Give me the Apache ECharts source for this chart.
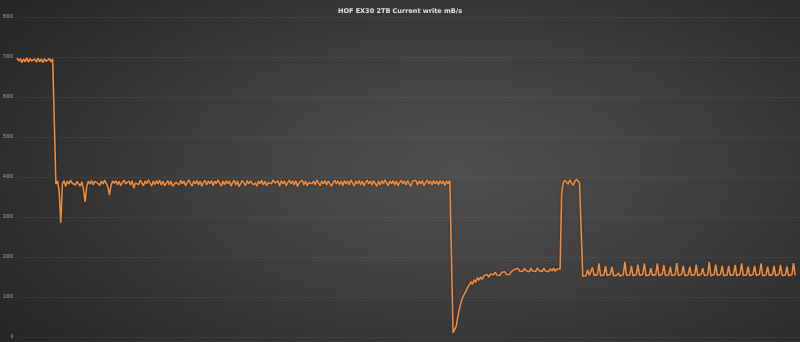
<!DOCTYPE html>
<html><head><meta charset="utf-8">
<script src="https://cdn.jsdelivr.net/npm/echarts@6/dist/echarts.min.js"></script>
<style>
html,body{margin:0;padding:0;}
#c{width:800px;height:342px;background:radial-gradient(ellipse 70% 80% at 57% 50%, #4e4e4e 0%, #434343 35%, #333333 70%, #262626 100%);}
</style></head><body>
<div id="c"></div>
<script>
var titleText = "HOF EX30 2TB Current write mB/s";
var yTicks = [0,1000,2000,3000,4000,5000,6000,7000,8000];
var segStart = [6980,6900,6960,6860,6950,6880,6980,6870,6960,6900,6850,6950,6870,6970,6880,6950,6860,6960,6890,6870,6960,6880,6950,6920];
var segDrop = [3820,3900,3650,2850,3820,3910,3760,3900,3820,3920,3850,3900,3800,3890,3840,3770,3880,3700,3380,3760,3900,3820,3910,3800,3890,3930,3840,3780,3900,3820,3920,3840,3760,3550,3790,3900];
var segPlateau = [
3840,3910,3800,3890,3780,3860,3920,3830,3780,3900,
3800,3910,3720,3850,3900,3810,3920,3850,3780,3900,
3830,3930,3850,3770,3900,3810,3910,3830,3920,3800,
3900,3780,3840,3910,3800,3900,3770,3750,3870,3910,
3800,3920,3830,3900,3780,3860,3930,3840,3770,3900,
3830,3910,3800,3900,3770,3860,3920,3800,3900,3830,
3910,3780,3900,3830,3930,3850,3770,3900,3810,3910,
3830,3900,3770,3860,3920,3800,3900,3760,3840,3910,
3860,3780,3910,3830,3900,3930,3800,3860,3770,3900,
3830,3920,3800,3900,3780,3860,3910,3830,3930,3850,
3800,3900,3770,3910,3830,3900,3780,3860,3920,3830,
3900,3800,3910,3760,3860,3830,3920,3800,3900,3780,
3860,3910,3830,3900,3800,3930,3850,3780,3900,3830,
3910,3800,3900,3830,3770,3860,3920,3830,3900,3800,
3900,3780,3910,3830,3900,3800,3930,3850,3770,3900,
3830,3910,3800,3900,3780,3860,3920,3830,3900,3800,
3910,3830,3770,3900,3800,3910,3830,3930,3850,3780,
3900,3830,3910,3800,3900,3780,3860,3920,3830,3900,
3800,3910,3830,3770,3900,3850,3920,3800,3900,3830,
3910,3780,3860,3920,3830,3900,3800,3910,3830,3900,
3800,3910,3830,3900,3780,3900,3830,3910,3860];
var segRecovery = [100,70,280,520,720,880,1000,1080,1150,1240,1300,1380,1320,1430,1370,1480,1420,1500,1440,1530,1480,1560,1500,1570,1600,1560,1620,1550,1600,1540,1620,1570,1630,1560,1610,1570,1640,1600,1690,1640,1720,1650,1700,1640,1720,1660,1710,1630,1720,1650,1700,1640,1730,1660,1700,1640,1720,1650,1690,1630,1710,1650,1720,1640,1700,1660,1700];
var segBurst = [3600,3860,3920,3940,3820,3930,3880,3790,3880,3940,3900,3860,3820];
var segPulse = [1520,1560,1530,1680,1540,1510,
1740,1540,1500,1560, 1840,1530,1510,1550, 1770,1540,1500,1570, 1750,1530,1510,1540,
1600,1520,1500,1560, 1880,1540,1510,1550, 1775,1530,1500,1560, 1810,1540,1510,1570,
1840,1530,1500,1550, 1720,1540,1510,1560, 1840,1530,1500,1570, 1800,1540,1510,1550,
1760,1530,1500,1560, 1850,1540,1510,1570, 1775,1530,1500,1550, 1760,1540,1510,1560,
1810,1530,1500,1570, 1720,1540,1510,1550, 1880,1530,1500,1560, 1810,1540,1510,1570,
1775,1530,1500,1550, 1775,1540,1510,1560, 1800,1530,1500,1570, 1840,1540,1510,1550,
1760,1530,1500,1560, 1775,1540,1510,1570, 1840,1530,1500,1550, 1760,1540,1510,1560,
1775,1530,1500,1570, 1800,1540,1510,1550, 1760,1530,1500,1560, 1850,1540];

var values = [].concat(segStart, segDrop, segPlateau, segRecovery, segBurst, segPulse);
var pts = values.map(function(v,i){return [i,v];});

var chart = echarts.init(document.getElementById('c'), null, {renderer:'canvas'});
chart.setOption({
  backgroundColor: 'transparent',
  animation: false,
  title: {text: titleText, left: 'center', top: 3,
    textStyle: {color:'#e2e2e2', fontSize: 6.5, fontWeight:'bold', fontFamily:'DejaVu Sans'}},
  grid: {left: 17, right: 0, top: 17, bottom: 5, containLabel: false, outerBoundsMode: 'none'},
  xAxis: {type:'value', min: 0, max: values.length + 2, show: false},
  yAxis: {type:'value', min: yTicks[0], max: yTicks[yTicks.length-1], interval: 1000,
    axisLine:{show:false}, axisTick:{show:false},
    axisLabel:{color:'#a8a8a8', fontSize:4.5, margin:4, fontFamily:'Liberation Sans',
      formatter: function(v){ return String(v); }},
    splitLine:{lineStyle:{color:'rgba(255,255,255,0.055)', width:1}}},
  series: [{type:'line', data: pts, showSymbol:false, symbol:'none',
    lineStyle:{color:'#f08c3e', width:1.6, shadowColor:'rgba(0,0,0,0.5)', shadowBlur:2}}]
});
</script></body></html>
